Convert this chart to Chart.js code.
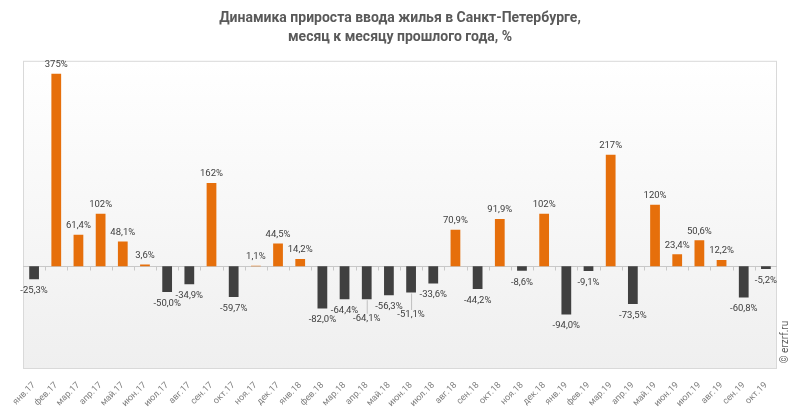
<!DOCTYPE html>
<html><head><meta charset="utf-8">
<script src="https://cdn.jsdelivr.net/npm/chart.js@4.4.0/dist/chart.umd.min.js"></script>
<style>html,body{margin:0;padding:0;background:#fff;}canvas{display:block;}</style>
</head><body>
<canvas id="c" width="793" height="415"></canvas>
<script>
const months = ["янв.17","фев.17","мар.17","апр.17","май.17","июн.17","июл.17","авг.17","сен.17","окт.17","ноя.17","дек.17",
"янв.18","фев.18","мар.18","апр.18","май.18","июн.18","июл.18","авг.18","сен.18","окт.18","ноя.18","дек.18",
"янв.19","фев.19","мар.19","апр.19","май.19","июн.19","июл.19","авг.19","сен.19","окт.19"];
const growth = [-25.3,375,61.4,102,48.1,3.6,-50.0,-34.9,162,-59.7,1.1,44.5,
14.2,-82.0,-64.4,-64.1,-56.3,-51.1,-33.6,70.9,-44.2,91.9,-8.6,102,
-94.0,-9.1,217,-73.5,120,23.4,50.6,12.2,-60.8,-5.2];
const titleLines = ["Динамика прироста ввода жилья в Санкт-Петербурге,","месяц к месяцу прошлого года, %"];
const watermark = "© erzrf.ru";
const axisMin = -200, axisMax = 400;

const ORANGE = "#e66f0b", DARK = "#404040";

function fmt(v){
  if (Math.abs(v) >= 100) return Math.round(v) + "%";
  return v.toFixed(1).replace(".", ",") + "%";
}

const bgPlugin = {
  id: "bg",
  beforeDraw(chart){
    const {ctx, chartArea:a} = chart;
    ctx.save();
    ctx.fillStyle = "#fff";
    ctx.fillRect(0,0,chart.width,chart.height);
    const g = ctx.createLinearGradient(0,a.top,0,a.bottom);
    g.addColorStop(0,"#ffffff");
    g.addColorStop(1,"#efefef");
    ctx.fillStyle = g;
    ctx.fillRect(a.left,a.top,a.right-a.left,a.bottom-a.top);
    ctx.strokeStyle = "#d9d9d9";
    ctx.lineWidth = 1;
    ctx.strokeRect(a.left+0.5,a.top+0.5,a.right-a.left-1,a.bottom-a.top-1);
    const y0 = Math.round(chart.scales.y.getPixelForValue(0))+0.5;
    const xs = chart.scales.x;
    ctx.strokeStyle = "#c8c8c8";
    ctx.beginPath();
    ctx.moveTo(a.left,y0); ctx.lineTo(a.right,y0);
    for (let i=1;i<months.length;i++){
      const xb = Math.round((xs.getPixelForValue(i-1)+xs.getPixelForValue(i))/2)+0.5;
      ctx.moveTo(xb,y0); ctx.lineTo(xb,y0+4);
    }
    ctx.stroke();
    ctx.restore();
  },
  afterDatasetsDraw(chart){
    const {ctx} = chart;
    const meta = chart.getDatasetMeta(0);
    ctx.save();
    ctx.font = "9.5px Roboto";
    ctx.fillStyle = "#404040";
    ctx.textAlign = "center";
    ctx.textBaseline = "middle";
    const placed = [];
    const h = 7.5;
    meta.data.forEach((bar,i)=>{
      const v = growth[i];
      const txt = fmt(v);
      const w = ctx.measureText(txt).width;
      const baseY = v >= 0 ? bar.y - 9 : bar.y + 11.5;
      const dir = v >= 0 ? -1 : 1;
      const hit = (x,y)=>placed.some(p=>Math.abs(p.x-x) < (p.w+w)/2 && Math.abs(p.y-y) < (p.h+h)/2);
      let x = bar.x, y = baseY;
      if (hit(x,y)){
        let ok = false;
        for (let dx=1; dx<=3; dx++){ if(!hit(bar.x+dx,y)){ x = bar.x+dx; ok = true; break; } }
        if (!ok){ x = bar.x; while(hit(x,y)) y += dir; }
      }
      if (Math.abs(y-baseY) > 3){
        ctx.strokeStyle = "#bfbfbf";
        ctx.lineWidth = 1;
        ctx.beginPath();
        ctx.moveTo(bar.x+0.5, bar.y + dir*1);
        ctx.lineTo(x+0.5, y - dir*5);
        ctx.stroke();
      }
      ctx.fillText(txt, x, y);
      placed.push({x,y,w,h});
    });
    ctx.translate(785, 342);
    ctx.rotate(-Math.PI/2);
    ctx.font = "10px Roboto";
    ctx.fillStyle = "#595959";
    ctx.fillText(watermark, 0, 0);
    ctx.restore();
  }
};

new Chart(document.getElementById("c"), {
  type: "bar",
  data: {
    labels: months,
    datasets: [{
      data: growth,
      backgroundColor: growth.map(v => v >= 0 ? ORANGE : DARK),
      borderWidth: 0,
      barPercentage: 0.44,
      categoryPercentage: 1.0
    }]
  },
  options: {
    responsive: false,
    animation: false,
    devicePixelRatio: 1,
    layout: { padding: { left: 23, right: 16, top: 0, bottom: 0 } },
    plugins: {
      legend: { display: false },
      tooltip: { enabled: false },
      title: {
        display: true,
        text: titleLines,
        color: "#595959",
        font: { family: "Roboto", size: 14, weight: "bold", lineHeight: 1.35 },
        padding: { top: 9, bottom: 14 }
      }
    },
    scales: {
      y: { display: false, min: axisMin, max: axisMax },
      x: {
        grid: { display: false },
        border: { display: false },
        ticks: {
          autoSkip: false,
          maxRotation: 45, minRotation: 45,
          color: "#7f7f7f",
          font: { family: "Roboto", size: 9 },
          padding: 3
        },
        afterFit(scale){ scale.height = 46; }
      }
    }
  },
  plugins: [bgPlugin]
});
</script>
</body></html>
